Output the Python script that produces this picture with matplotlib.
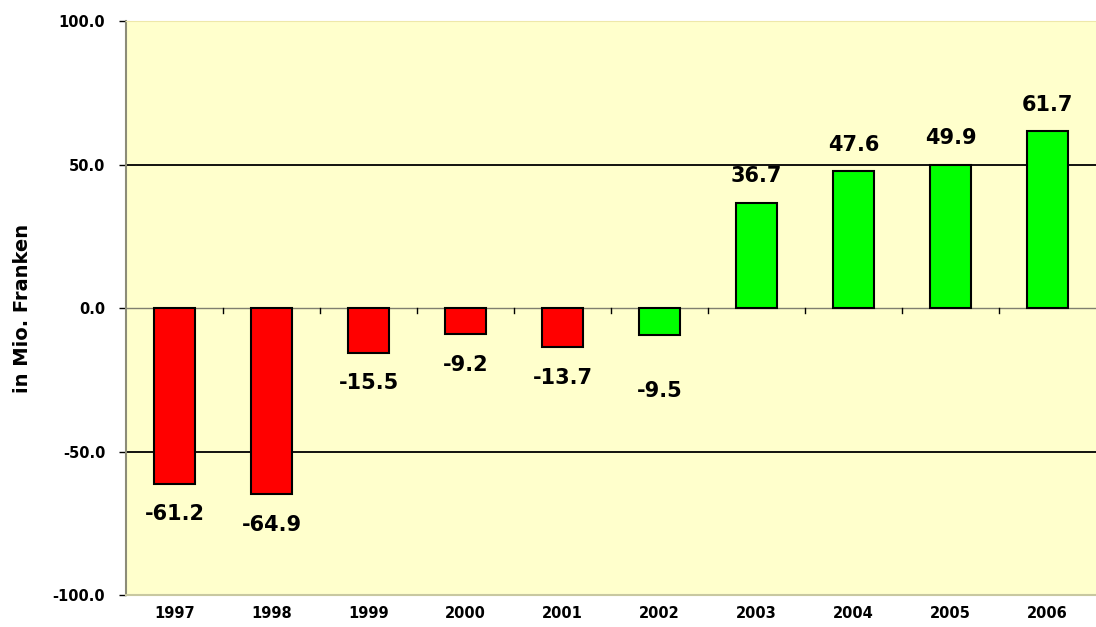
import matplotlib
matplotlib.use("Agg")
import matplotlib.pyplot as plt
import numpy as np

# Jahresergebnisse in Mio. Franken
jahre = ["1997", "1998", "1999", "2000", "2001", "2002", "2003", "2004", "2005", "2006"]
werte = [-61.2, -64.9, -15.5, -9.2, -13.7, -9.5, 36.7, 47.6, 49.9, 61.7]
farben = ["#FF0000", "#FF0000", "#FF0000", "#FF0000", "#FF0000",
          "#00FF00", "#00FF00", "#00FF00", "#00FF00", "#00FF00"]

plt.rcParams['font.family'] = ['DejaVu Sans']

fig = plt.figure(figsize=(10.96, 6.27), dpi=100)
ax = fig.add_axes([0.115, 0.051, 0.885, 0.9155])
ax.set_facecolor("#FFFFCC")

x = np.arange(len(jahre))
ax.bar(x, werte, width=0.43, color=farben, edgecolor="black", linewidth=1.5, zorder=3)

# Gitterlinien bei +/-50
for g in (50, -50):
    ax.axhline(g, color="black", linewidth=1.3, zorder=1)
# Kategorieachse bei 0
ax.axhline(0, color="#808070", linewidth=1.0, zorder=2)
for b in x[:-1] + 0.5:
    ax.plot([b, b], [0, -1.6], color="black", linewidth=1.0, zorder=2)

# Datenbeschriftungen
for i, v in enumerate(werte):
    off = 19 if v > 0 else -22
    if jahre[i] == "2002":
        off = -40
    ax.annotate(f"{v:.1f}", (i, v), xytext=(0, off), textcoords="offset points",
                ha="center", va="center", fontsize=15, fontweight="bold", zorder=4)

ax.set_xlim(-0.5, len(jahre) - 0.5)
ax.set_ylim(-100, 100)
ax.set_yticks([-100, -50, 0, 50, 100])
ax.set_yticklabels([f"{t:.1f}" for t in [-100, -50, 0, 50, 100]],
                   fontsize=10.5, fontweight="bold")
ax.set_xticks(x)
ax.set_xticklabels(jahre, fontsize=10.5, fontweight="bold")
ax.tick_params(axis="x", length=0, pad=8)
ax.tick_params(axis="y", length=5, width=1, direction="out", pad=10)

ax.spines["right"].set_visible(False)
ax.spines["top"].set_color("#EEE8AA")
ax.spines["left"].set_color("#8C8C78")
ax.spines["left"].set_linewidth(1.5)
ax.spines["bottom"].set_color("#C8C8A0")
ax.spines["bottom"].set_linewidth(1.5)

ax.set_ylabel("in Mio. Franken", fontsize=14, fontweight="bold")
ax.yaxis.set_label_coords(-0.097, 0.5)

fig.savefig("out.png", dpi=100)
